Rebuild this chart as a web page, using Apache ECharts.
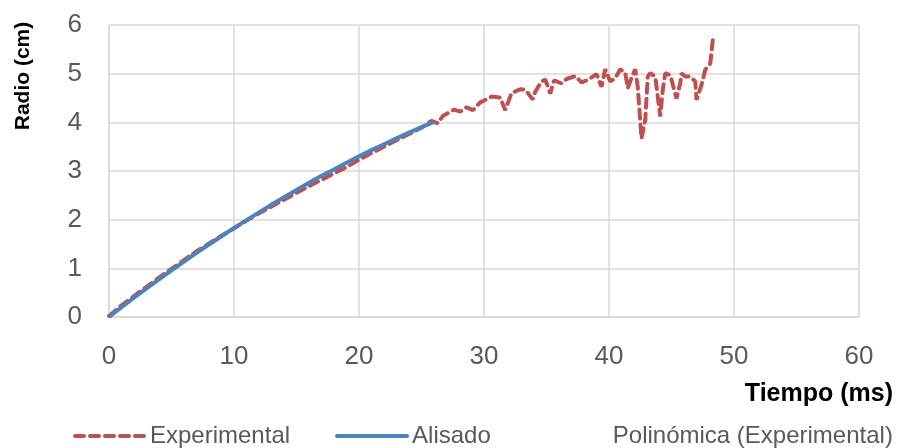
<!DOCTYPE html>
<html>
<head>
<meta charset="utf-8">
<script src="https://cdn.jsdelivr.net/npm/echarts@6/dist/echarts.min.js"></script>
<style>html,body{margin:0;padding:0;background:#fff;}#c{width:899px;height:448px;}</style>
</head>
<body>
<div id="c"></div>
<script>
var FONT = "'Liberation Sans', Arial, sans-serif";
var xTicks = [0, 10, 20, 30, 40, 50, 60];
var yTicks = [0, 1, 2, 3, 4, 5, 6];
var legendNames = ['Experimental', 'Alisado', 'Polinómica (Experimental)'];
var experimental = [
  [0,0.02],[0.5,0.13],[1,0.24],[1.5,0.33],[2,0.43],[3,0.62],[4,0.81],[5,0.99],[6,1.17],[7,1.35],
  [8,1.51],[9,1.67],[10,1.82],[11,1.98],[12,2.13],[13,2.27],[14,2.41],[15,2.55],[16,2.69],[17,2.82],
  [18,2.95],[19,3.08],[20,3.23],[21,3.37],[22,3.50],[23,3.63],[24,3.76],[25,3.89],[25.8,4.03],[26.3,3.98],
  [26.7,4.13],[27.2,4.20],[27.6,4.26],[28.1,4.22],[28.6,4.31],[29.1,4.25],[29.7,4.41],[30.1,4.46],[30.6,4.53],[31.3,4.51],
  [31.7,4.25],[32.2,4.60],[32.9,4.68],[33.3,4.67],[33.9,4.47],[34.1,4.63],[34.6,4.84],[34.9,4.88],[35.3,4.59],[35.6,4.86],
  [36.2,4.80],[36.6,4.89],[37.3,4.95],[37.8,4.82],[38.3,4.87],[39.0,4.99],[39.4,4.73],[39.7,5.09],[40.1,4.84],[40.5,4.91],
  [40.9,5.09],[41.3,5.02],[41.5,4.70],[41.8,4.91],[42.1,5.09],[42.3,4.73],[42.6,3.67],[42.9,4.05],[43.1,4.94],[43.3,5.01],
  [43.7,4.94],[44.1,4.12],[44.3,4.67],[44.5,5.01],[44.9,4.97],[45.4,4.49],[45.7,4.80],[45.8,5.01],[46.1,4.94],[46.5,4.94],
  [46.9,4.84],[47.0,4.46],[47.4,4.77],[47.7,5.08],[48.1,5.21],[48.3,5.69]
];
var smoothX = [0,1,2,3,4,5,6,7,8,9,10,11,12,13,14,15,16,17,18,19,20,21,22,23,24,25,26];
var smoothY = [0,0.20,0.395,0.59,0.775,0.96,1.14,1.32,1.49,1.66,1.83,1.99,2.15,2.31,2.46,2.61,2.76,2.90,3.03,3.17,3.30,3.43,3.55,3.67,3.79,3.90,4.01];

var chart = echarts.init(document.getElementById('c'), null, {renderer: 'canvas'});
chart.setOption({
  animation: false,
  backgroundColor: '#fff',
  grid: {left: 109, right: 40, top: 25, bottom: 131, outerBoundsMode: 'none', containLabel: false},
  xAxis: {
    type: 'value', min: xTicks[0], max: xTicks[xTicks.length-1], interval: 10,
    axisLine: {show: true, lineStyle: {color: '#D9D9D9', width: 1.5}},
    axisTick: {show: false},
    splitLine: {show: true, lineStyle: {color: '#D9D9D9', width: 1.5}},
    axisLabel: {color: '#595959', fontFamily: FONT, fontSize: 26, margin: 27}
  },
  yAxis: {
    type: 'value', min: yTicks[0], max: yTicks[yTicks.length-1], interval: 1,
    axisLine: {show: true, lineStyle: {color: '#D9D9D9', width: 1.5}},
    axisTick: {show: false},
    splitLine: {show: true, lineStyle: {color: '#D9D9D9', width: 1.5}},
    axisLabel: {color: '#595959', fontFamily: FONT, fontSize: 26, margin: 27}
  },
  legend: {
    data: legendNames,
    left: 68, top: 419,
    itemWidth: 70, itemHeight: 14, itemGap: 45,
    itemStyle: {opacity: 0},
    lineStyle: {width: 4, cap: 'round'},
    textStyle: {color: '#595959', fontFamily: FONT, fontSize: 24},
    selectedMode: false
  },
  graphic: [
    {type: 'text', x: 23, y: 76, rotation: Math.PI/2,
     style: {text: 'Radio (cm)', fontFamily: FONT, fontSize: 21, fontWeight: 'bold', fill: '#000', align: 'center', verticalAlign: 'middle'}},
    {type: 'text', x: 893, y: 394,
     style: {text: 'Tiempo (ms)', fontFamily: FONT, fontSize: 25, fontWeight: 'bold', fill: '#000', align: 'right', verticalAlign: 'middle'}}
  ],
  series: [
    {name: legendNames[0], type: 'line', data: experimental, showSymbol: false, symbol: 'none',
     lineStyle: {color: '#C0504D', width: 4, type: [9, 6], cap: 'round'}, itemStyle: {color: '#C0504D'}, z: 2},
    {name: legendNames[1], type: 'line', data: smoothX.map(function(x, i){return [x, smoothY[i]];}), showSymbol: false, symbol: 'none',
     lineStyle: {color: '#4F81BD', width: 4}, itemStyle: {color: '#4F81BD'}, z: 3},
    {name: legendNames[2], type: 'line', data: [], showSymbol: false, symbol: 'none',
     lineStyle: {color: 'rgba(0,0,0,0)', width: 0}, itemStyle: {color: 'rgba(0,0,0,0)'}}
  ]
});
</script>
</body>
</html>
